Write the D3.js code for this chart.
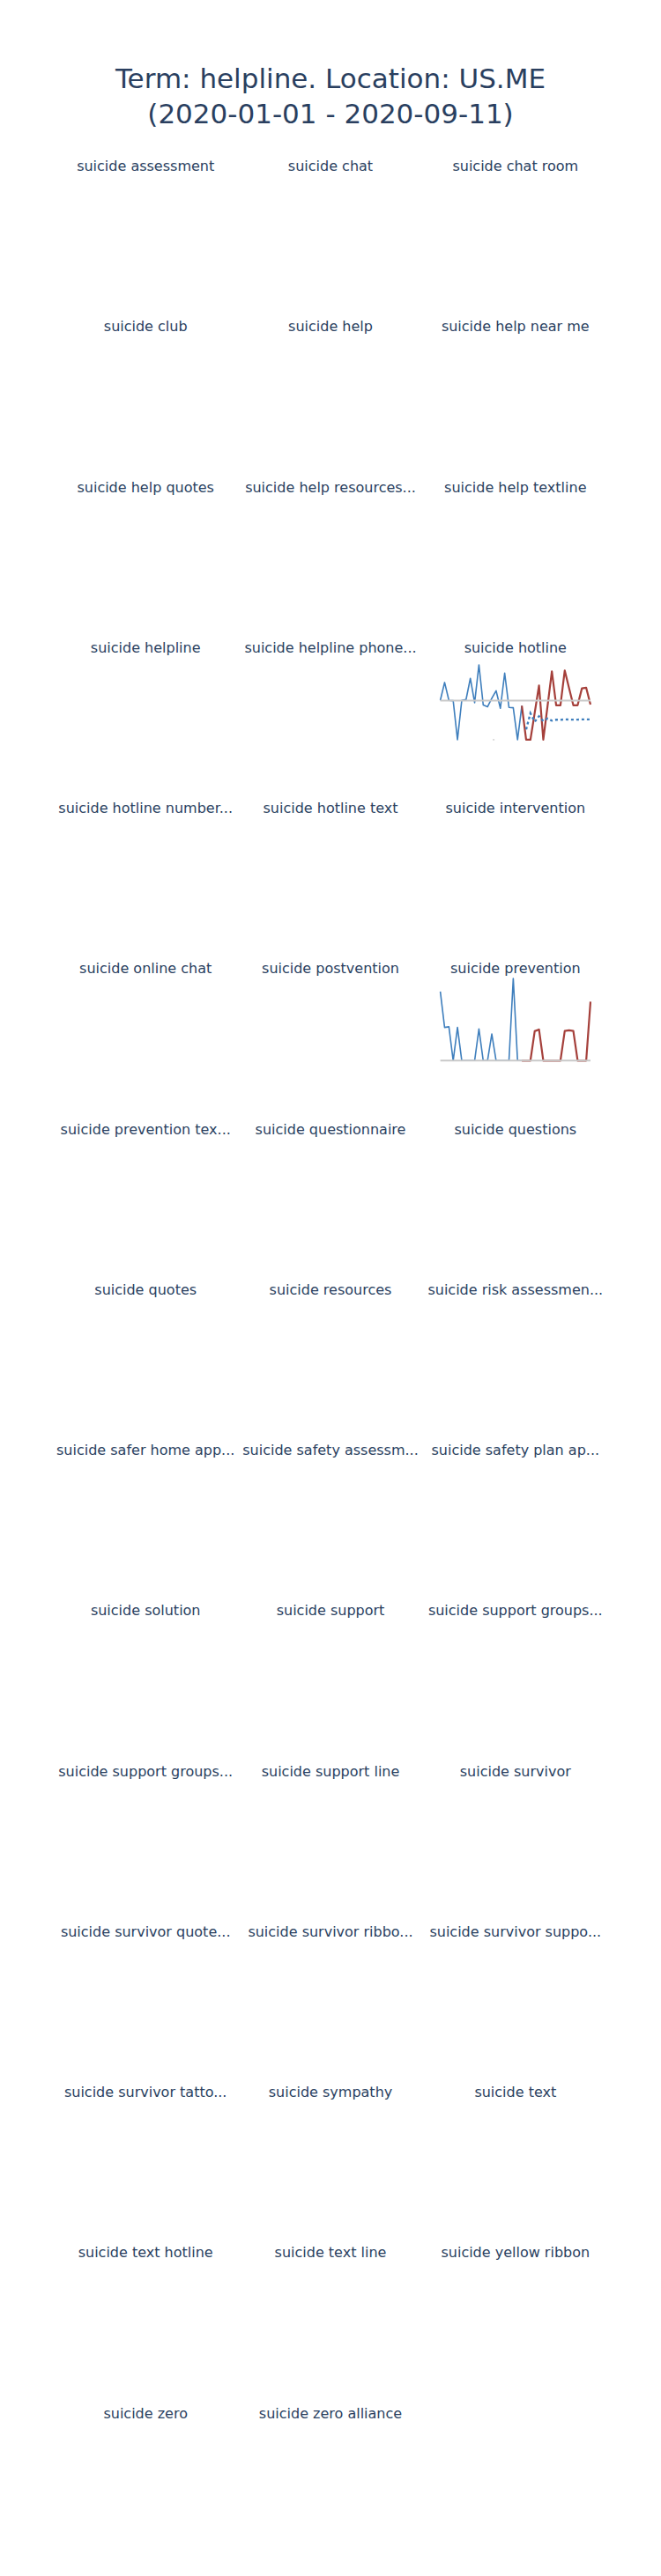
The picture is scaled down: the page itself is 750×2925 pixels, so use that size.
<!DOCTYPE html>
<html>
<head>
<meta charset="utf-8">
<script src="https://cdn.jsdelivr.net/npm/d3@7"></script>
<style>
  body { margin: 0; background: #fff; }
  svg { display: block; }
  text { font-family: "DejaVu Sans", Verdana, sans-serif; fill: #2a3f5f; }
</style>
</head>
<body>
<div id="chart"></div>
<script>
// ---------------- data ----------------
const titleLines = ["Term: helpline. Location: US.ME", "(2020-01-01 - 2020-09-11)"];

const terms = [
  "suicide assessment", "suicide chat", "suicide chat room",
  "suicide club", "suicide help", "suicide help near me",
  "suicide help quotes", "suicide help resources...", "suicide help textline",
  "suicide helpline", "suicide helpline phone...", "suicide hotline",
  "suicide hotline number...", "suicide hotline text", "suicide intervention",
  "suicide online chat", "suicide postvention", "suicide prevention",
  "suicide prevention tex...", "suicide questionnaire", "suicide questions",
  "suicide quotes", "suicide resources", "suicide risk assessmen...",
  "suicide safer home app...", "suicide safety assessm...", "suicide safety plan ap...",
  "suicide solution", "suicide support", "suicide support groups...",
  "suicide support groups...", "suicide support line", "suicide survivor",
  "suicide survivor quote...", "suicide survivor ribbo...", "suicide survivor suppo...",
  "suicide survivor tatto...", "suicide sympathy", "suicide text",
  "suicide text hotline", "suicide text line", "suicide yellow ribbon",
  "suicide zero", "suicide zero alliance"
];

const weeks = [
  "2020-01-05","2020-01-12","2020-01-19","2020-01-26","2020-02-02","2020-02-09",
  "2020-02-16","2020-02-23","2020-03-01","2020-03-08","2020-03-15","2020-03-22",
  "2020-03-29","2020-04-05","2020-04-12","2020-04-19","2020-04-26","2020-05-03",
  "2020-05-10","2020-05-17","2020-05-24","2020-05-31","2020-06-07","2020-06-14",
  "2020-06-21","2020-06-28","2020-07-05","2020-07-12","2020-07-19","2020-07-26",
  "2020-08-02","2020-08-09","2020-08-16","2020-08-23","2020-08-30","2020-09-06"
];

// suicide hotline (weeks 0..19 before, 19..35 after, expected 20..35)
const hotlineBefore = [52.6, 76.5, 52.6, 52.1, 0, 52.6, 53.8, 82, 49.5, 100,
                       46.5, 44, 55.5, 65.5, 42, 89, 43.2, 42.7, 0, 45.5];
const hotlineAfter = [45.5, 0, 0, 36, 72.5, 0, 45.5, 91.2, 46, 46,
                      92.5, 69, 46, 46, 68.6, 69.4, 47];
const hotlineExpected = [13.7, 35.3, 24, 31.4, 25, 28.4, 25.5, 26.7,
                         26.6, 27.2, 27, 26.8, 26.9, 27.1, 27.2, 27.1];
const hotlineMedian = 52.3;
const hotlineMarkWeek = "2020-04-01";
const hotlineYRange = [-40.6, 110.8];

// suicide prevention
const preventionBefore = [84, 40.4, 41.2, 0, 40.4, 0, 0, 0, 0, 38.6,
                          0, 0, 32.3, 0, 0, 0, 0, 100, 0, 0];
const preventionAfter = [0, 0, 0, 35.8, 37.9, 0, 0, 0, 0, 0,
                         36, 36.8, 36, 0, 0, 0, 71.8];
const preventionMedian = 0;
const preventionYRange = [-37.2, 100.75];

const beforeStart = 0, afterStart = 19, expectedStart = 20;

// ---------------- layout ----------------
const W = 750, H = 2925;
const nCols = 3, nRows = Math.ceil(terms.length / nCols);
const colors = { before: "#3f7fbd", after: "#a5403b", median: "#c9c9c9", title: "#2a3f5f" };

const svg = d3.select("#chart").append("svg")
  .attr("width", W).attr("height", H).attr("viewBox", `0 0 ${W} ${H}`);
svg.append("rect").attr("width", W).attr("height", H).attr("fill", "#fff");

const colScale = d3.scaleBand().domain(d3.range(nCols)).range([80, 670]).paddingInner(0.1878);
const rowScale = d3.scaleBand().domain(d3.range(nRows)).range([199, 2879.3]).paddingInner(0.2939);

// main title
const t = svg.append("text").attr("text-anchor", "middle").attr("x", W / 2)
  .style("font-size", "31px");
titleLines.forEach((line, i) => {
  t.append("tspan").attr("x", W / 2).attr("y", 100 + i * 39.5).text(line);
});

const parse = d3.timeParse("%Y-%m-%d");
const dates = weeks.map(parse);

const series = {
  "suicide hotline": {
    before: hotlineBefore, after: hotlineAfter, expected: hotlineExpected,
    median: hotlineMedian, yRange: hotlineYRange, mark: hotlineMarkWeek
  },
  "suicide prevention": {
    before: preventionBefore, after: preventionAfter, expected: null,
    median: preventionMedian, yRange: preventionYRange, mark: null
  }
};

terms.forEach((term, i) => {
  const r = Math.floor(i / nCols), c = i % nCols;
  const x0 = colScale(c), x1 = x0 + colScale.bandwidth();
  const y0 = rowScale(r), y1 = y0 + rowScale.bandwidth();
  const g = svg.append("g");

  g.append("text")
    .attr("x", (x0 + x1) / 2).attr("y", y0 - 5)
    .attr("text-anchor", "middle")
    .style("font-size", "16px")
    .text(term);

  const s = series[term];
  if (!s) return;

  const x = d3.scaleTime().domain(d3.extent(dates)).range([x0, x1]);
  const y = d3.scaleLinear().domain(s.yRange).range([y1, y0]);

  const line = (offset) => d3.line()
    .x((d, k) => x(dates[offset + k]))
    .y(d => y(d));

  g.append("path").datum(s.before)
    .attr("d", line(beforeStart))
    .attr("fill", "none").attr("stroke", colors.before)
    .attr("stroke-width", 1.6).attr("stroke-linejoin", "round");

  g.append("path").datum(s.after)
    .attr("d", line(afterStart))
    .attr("fill", "none").attr("stroke", colors.after)
    .attr("stroke-width", 2.2).attr("stroke-linejoin", "round");

  if (s.expected) {
    g.append("path").datum(s.expected)
      .attr("d", line(expectedStart))
      .attr("fill", "none").attr("stroke", colors.before)
      .attr("stroke-width", 2.4).attr("stroke-dasharray", "3,3");
  }

  g.append("line")
    .attr("x1", x(dates[0])).attr("x2", x(dates[dates.length - 1]))
    .attr("y1", y(s.median)).attr("y2", y(s.median))
    .attr("stroke", colors.median).attr("stroke-width", 2);

  if (s.mark) {
    const mx = x(parse(s.mark));
    g.append("line")
      .attr("x1", mx - 1).attr("x2", mx + 1)
      .attr("y1", y(0)).attr("y2", y(0))
      .attr("stroke", "#bbbbbb").attr("stroke-width", 1);
  }
});
</script>
</body>
</html>
